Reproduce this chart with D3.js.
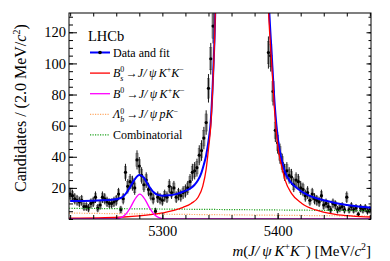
<!DOCTYPE html>
<html>
<head>
<meta charset="utf-8">
<script src="https://cdn.jsdelivr.net/npm/d3@7"></script>
<style>
  body { margin: 0; background: #fff; }
  text { font-family: "Liberation Serif", "Times New Roman", serif; fill: #000; }
</style>
</head>
<body>
<svg id="chart" width="390" height="261"></svg>
<script>
// ---- data ----
const binLow = 5219, binWidth = 2;
// candidates per 2 MeV bin, 5219 .. 5481
const counts = [
  16, 15, 13, 12, 11, 12, 8, 8, 7, 10,
  11, 14, 7, 9, 14, 13, 11, 10, 10, 11,
  12, 16, 6, 13, 30, 21, 24, 23, 20, 38,
  34, 28, 22, 25, 19, 16, 13, 5, 14, 13,
  12, 15, 14, 21, 17, 20, 14, 16, 15, 17,
  18, 20, 24, 30, 31, 33, 41, 44, 52, 62,
  84, 103, 124,
  170, 260, 420, 650, 950, 1300, 1700, 2050, 2300, 2400,
  2350, 2150, 1850, 1500, 1150, 850, 600, 420, 320, 250,
  210, 190, 150,
  107, 105, 82, 57, 49, 42, 36, 30, 31, 28,
  27, 22, 25, 24, 20, 19, 15, 17, 12, 16,
  13, 12, 11, 15, 9, 10, 8, 6, 10, 9,
  6, 7, 8, 6, 14, 6, 8, 6, 7, 3,
  7, 6, 7, 5, 6
];

// total fit
const fitMass = [5220, 5240, 5256, 5264, 5268, 5272, 5276, 5280, 5284, 5288,
  5292, 5296, 5300, 5306, 5312, 5318, 5324, 5328, 5331, 5334,
  5336, 5338, 5340, 5342, 5344, 5346, 5350, 5356, 5361, 5367,
  5373, 5379, 5385, 5389, 5392, 5395, 5397.5, 5400.5, 5403.5, 5406.5,
  5410, 5415, 5420, 5426, 5433, 5440, 5450, 5460, 5470, 5481];
const fitTotal = [11.5, 11.8, 12.3, 13.5, 16, 20.5, 25.5, 28.3, 26.5, 21.5,
  17.5, 15.5, 15, 15.2, 16, 17.5, 19.5, 22, 25, 30,
  35, 41, 50, 63, 92, 137, 405, 1505, 2805, 3505,
  2805, 1505, 405, 210, 145, 104, 73, 50, 38, 30,
  25, 21, 18, 15.5, 13.5, 12, 10.3, 9, 8, 7.3];

// Bs0 -> J/psi K+ K-
const bsMass = [5219, 5250, 5280, 5300, 5310, 5318, 5325, 5331, 5335, 5338,
  5340, 5342, 5344, 5346, 5350, 5356, 5361, 5367, 5373, 5379,
  5385, 5389, 5392, 5395, 5397.5, 5400.5, 5403.5, 5406.5, 5412, 5421,
  5433, 5450, 5465, 5481];
const bsFit = [0.5, 0.8, 2.0, 3.9, 5.5, 7.5, 10, 14, 21, 32,
  45, 60, 90, 135, 400, 1500, 2800, 3500, 2800, 1500,
  400, 200, 135, 98, 68, 45, 34, 25, 16.5, 10,
  5.8, 3.0, 1.9, 1.3];

// B0 -> J/psi K+ K-
const b0Mass = [5219, 5258, 5264, 5268, 5272, 5276, 5280.5, 5285, 5289, 5293, 5297, 5303, 5481];
const b0Fit = [0, 0.1, 0.9, 2.9, 7.0, 12.5, 16, 12.5, 7.0, 2.9, 0.9, 0.1, 0];

// Lambda_b -> J/psi p K-
const lbMass = [5219, 5300, 5400, 5481];
const lbFit = [3.8, 3.1, 2.4, 1.9];

// combinatorial
const combMass = [5219, 5300, 5400, 5481];
const combFit = [6.9, 6.4, 5.8, 5.3];

const xMajor = [5300, 5400];
const yMajor = [20, 40, 60, 80, 100, 120];

// ---- layout ----
const svg = d3.select('#chart');
const plot = { left: 69, right: 371, top: 13, bottom: 219 };

const x = d3.scaleLinear().domain([5219, 5481]).range([plot.left, plot.right]);
const y = d3.scaleLinear().domain([0, 132.4]).range([plot.bottom, plot.top]);

svg.append('defs').append('clipPath').attr('id', 'clip')
  .append('rect')
  .attr('x', plot.left).attr('y', plot.top)
  .attr('width', plot.right - plot.left).attr('height', plot.bottom - plot.top);

const area = svg.append('g').attr('clip-path', 'url(#clip)');

// ---- data points ----
const bins = counts.map((c, i) => ({ m: binLow + binWidth * (i + 0.5), n: c, e: Math.sqrt(c) }));
const halfBin = (x(binLow + binWidth) - x(binLow)) / 2;

area.selectAll('.box').data(bins).enter().append('rect')
  .attr('class', 'box')
  .attr('x', d => x(d.m) - halfBin)
  .attr('width', halfBin * 2)
  .attr('y', d => y(d.n + 0.7 * d.e))
  .attr('height', d => y(d.n - 0.7 * d.e) - y(d.n + 0.7 * d.e))
  .attr('fill', '#c4c4c4')
  .attr('stroke', '#7a7a7a')
  .attr('stroke-width', 0.5);

area.selectAll('.err').data(bins).enter().append('line')
  .attr('class', 'err')
  .attr('x1', d => x(d.m)).attr('x2', d => x(d.m))
  .attr('y1', d => y(d.n + d.e)).attr('y2', d => y(d.n - d.e))
  .attr('stroke', '#000').attr('stroke-width', 0.9);

area.selectAll('.pt').data(bins).enter().append('circle')
  .attr('class', 'pt')
  .attr('cx', d => x(d.m)).attr('cy', d => y(d.n))
  .attr('r', 1.6).attr('fill', '#000');

// ---- fit curves ----
function curve(ms, vs, color, width, dash) {
  const line = d3.line().x(d => x(d[0])).y(d => y(d[1])).curve(d3.curveMonotoneX);
  area.append('path')
    .datum(ms.map((m, i) => [m, vs[i]]))
    .attr('d', line)
    .attr('fill', 'none')
    .attr('stroke', color)
    .attr('stroke-width', width)
    .attr('stroke-dasharray', dash || null);
}

const COLORS = {
  total: '#0000ff',
  bs: '#ff0000',
  b0: '#ff00ff',
  lb: '#ffaa66',
  comb: '#1fa31f'
};

curve(combMass, combFit, COLORS.comb, 1.2, '1.2,1.3');
curve(lbMass, lbFit, COLORS.lb, 1.2, '1.2,1.3');
curve(fitMass, fitTotal, COLORS.total, 2);
curve(bsMass, bsFit, COLORS.bs, 1.3);
curve(b0Mass, b0Fit, COLORS.b0, 1.3);

// ---- axes ----
function styleAxis(g) {
  g.select('.domain').remove();
  g.selectAll('line').attr('stroke', '#000').attr('stroke-width', 1);
  g.selectAll('text')
    .attr('font-family', '"Liberation Serif", "Times New Roman", serif')
    .attr('font-size', 14.5).attr('fill', '#000');
}

const xMinor = d3.range(5220, 5481, 20);
const yMinor = d3.range(0, 133, 5);

svg.append('g').attr('transform', `translate(0,${plot.bottom})`)
  .call(d3.axisBottom(x).tickValues(xMinor).tickSize(-4).tickFormat('')).call(styleAxis);
svg.append('g').attr('transform', `translate(0,${plot.bottom})`)
  .call(d3.axisBottom(x).tickValues(xMajor).tickSize(-6).tickPadding(7).tickFormat(d3.format('d')))
  .call(styleAxis);
svg.append('g').attr('transform', `translate(0,${plot.top})`)
  .call(d3.axisTop(x).tickValues(xMinor).tickSize(-3.5).tickFormat('')).call(styleAxis);

svg.append('g').attr('transform', `translate(${plot.left},0)`)
  .call(d3.axisLeft(y).tickValues(yMinor).tickSize(-4).tickFormat('')).call(styleAxis);
svg.append('g').attr('transform', `translate(${plot.left},0)`)
  .call(d3.axisLeft(y).tickValues(yMajor).tickSize(-8).tickPadding(3)).call(styleAxis);
svg.append('g').attr('transform', `translate(${plot.right},0)`)
  .call(d3.axisRight(y).tickValues(yMinor).tickSize(-2.5).tickFormat('')).call(styleAxis);
svg.append('g').attr('transform', `translate(${plot.right},0)`)
  .call(d3.axisRight(y).tickValues(yMajor).tickSize(-4.5).tickFormat('')).call(styleAxis);

svg.append('rect')
  .attr('x', plot.left).attr('y', plot.top)
  .attr('width', plot.right - plot.left).attr('height', plot.bottom - plot.top)
  .attr('fill', 'none').attr('stroke', '#000').attr('stroke-width', 1);

// ---- rich text helper: parts are [text, kind] ----
function rich(sel, parts, size) {
  let cur = 0;
  parts.forEach(([txt, kind]) => {
    let target = 0, fs = size, italic = false, dx = null;
    if (kind === 'i') italic = true;
    if (kind === 'sup') { target = -0.4 * size; fs = size * 0.66; }
    if (kind === 'sub') { target = 0.3 * size; fs = size * 0.66; italic = true; }
    if (kind === 'subback') { target = 0.3 * size; fs = size * 0.66; italic = true; dx = -0.33 * size; }
    const t = sel.append('tspan').attr('font-size', fs).text(txt);
    if (target - cur !== 0) t.attr('dy', target - cur);
    if (italic) t.attr('font-style', 'italic');
    if (dx !== null) t.attr('dx', dx);
    cur = target;
  });
}

// ---- axis titles ----
const xTitle = svg.append('text')
  .attr('x', plot.right).attr('y', 256)
  .attr('text-anchor', 'end').attr('font-size', 15);
rich(xTitle, [['m', 'i'], ['(', 'n'], ['J/\u2009', 'i'], ['\u03c8', 'i'], ['\u2009K', 'i'], ['+', 'sup'],
  ['K', 'i'], ['\u2212', 'sup'], [')\u00a0[MeV/', 'n'], ['c', 'i'], ['2', 'sup'], [']', 'n']], 15);

const yTitle = svg.append('text')
  .attr('transform', 'translate(26,108) rotate(-90)')
  .attr('text-anchor', 'middle').attr('font-size', 16);
rich(yTitle, [['Candidates / (2.0 MeV/', 'n'], ['c', 'i'], ['2', 'sup'], [')', 'n']], 16);

// ---- legend ----
svg.append('text').attr('x', 88).attr('y', 41).attr('font-size', 14.5).text('LHCb');

const legendLabels = [
  [['Data and fit', 'n']],
  [['B', 'i'], ['0', 'sup'], ['s', 'subback'], ['\u2009\u2192', 'n'], ['J/\u2009', 'i'], ['\u03c8', 'i'], ['\u2009K', 'i'], ['+', 'sup'], ['K', 'i'], ['\u2212', 'sup']],
  [['B', 'i'], ['0', 'sup'], ['\u2009\u2192', 'n'], ['J/\u2009', 'i'], ['\u03c8', 'i'], ['\u2009K', 'i'], ['+', 'sup'], ['K', 'i'], ['\u2212', 'sup']],
  [['\u039b', 'i'], ['0', 'sup'], ['b', 'subback'], ['\u2009\u2192', 'n'], ['J/\u2009', 'i'], ['\u03c8', 'i'], ['\u2009p', 'i'], ['K', 'i'], ['\u2212', 'sup']],
  [['Combinatorial', 'n']]
];
const legendStyles = [
  { color: COLORS.total, width: 2, dash: null },
  { color: COLORS.bs, width: 1.3, dash: null },
  { color: COLORS.b0, width: 1.3, dash: null },
  { color: COLORS.lb, width: 1.2, dash: '1.2,1.3' },
  { color: COLORS.comb, width: 1.2, dash: '1.2,1.3' }
];

const legend = svg.append('g');
legendLabels.forEach((parts, i) => {
  const ly = 52.5 + i * 20.6;
  const st = legendStyles[i];
  legend.append('line')
    .attr('x1', 90).attr('x2', 110).attr('y1', ly).attr('y2', ly)
    .attr('stroke', st.color).attr('stroke-width', st.width)
    .attr('stroke-dasharray', st.dash);
  if (i === 0) {
    legend.append('circle').attr('cx', 100).attr('cy', ly).attr('r', 1.8).attr('fill', '#000');
  }
  const t = legend.append('text').attr('x', 113).attr('y', ly + 4).attr('font-size', 12);
  rich(t, parts, 12);
});
</script>
</body>
</html>
